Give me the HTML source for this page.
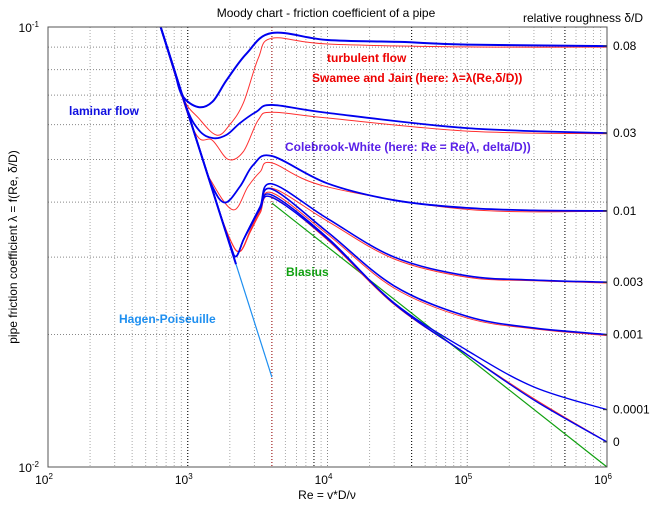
<!DOCTYPE html>
<html><head><meta charset="utf-8">
<style>
body{margin:0;background:#fff;}
svg{display:block;font-family:"Liberation Sans",sans-serif;}
.lbl{font-size:12px;font-weight:bold;}
.tk{font-size:12px;fill:#000;}
</style></head>
<body>
<svg id="chart" width="654" height="508" viewBox="0 0 654 508" xmlns="http://www.w3.org/2000/svg">
<rect x="0" y="0" width="654" height="508" fill="#fff"/>
<g id="grid"></g>
<g id="marks"></g>
<rect x="48" y="27" width="559" height="440" fill="none" stroke="#555" stroke-width="1"/>
<g id="ticks"></g>
<text x="326" y="17" text-anchor="middle" font-size="12">Moody chart - friction coefficient of a pipe</text>
<text x="583" y="22" text-anchor="middle" font-size="12">relative roughness δ/D</text>
<text transform="translate(17,247) rotate(-90)" text-anchor="middle" font-size="12">pipe friction coefficient λ = f(Re, δ/D)</text>
<text x="327" y="499" text-anchor="middle" font-size="12">Re = v*D/ν</text>
<text class="lbl" x="327" y="62" fill="#ee0000">turbulent flow</text>
<text class="lbl" x="312" y="82" fill="#ee0000">Swamee and Jain (here: λ=λ(Re,δ/D))</text>
<text class="lbl" x="69" y="115" fill="#1010e0">laminar flow</text>
<text class="lbl" x="285" y="151" fill="#5a20e8">Colebrook-White (here: Re = Re(λ, delta/D))</text>
<text class="lbl" x="286" y="276" fill="#10a010">Blasius</text>
<text class="lbl" x="119" y="323" fill="#1e8ff0">Hagen-Poiseuille</text>
</svg>
<script>
// ---- data ----
const roughnessLabels = ["0.08","0.03","0.01","0.003","0.001","0.0001","0"];
const roughnessEndLambda = [0.0905,0.0574,0.0382,0.0263,0.0200,0.0135,0.0114];
const laminarRe = [640, 2214];
const laminarLambda = [0.1, 0.0289];
const hagenRe = [2000, 4000];
const hagenLambda = [0.032, 0.016];
const blasiusRe = [4000, 1000000];
const blasiusLambda = [0.0398, 0.0100];

const cwRe008 = [640, 800, 910, 1184, 1500, 1900, 2640, 4000, 10000, 33000, 100000, 1000000];
const cwLam008 = [0.1, 0.080, 0.0700, 0.0658, 0.0676, 0.0758, 0.0871, 0.0969, 0.0934, 0.0925, 0.0912, 0.0905];
const cwRe003 = [640, 955, 1200, 1516, 1900, 2365, 3100, 4000, 10000, 100000, 1000000];
const cwLam003 = [0.1, 0.067, 0.0583, 0.0559, 0.0569, 0.0605, 0.0642, 0.0665, 0.0638, 0.0589, 0.0574];
const cwRe001 = [640, 1224, 1500, 1847, 2365, 2945, 4000, 10000, 30000, 100000, 300000, 1000000];
const cwLam001 = [0.1, 0.0523, 0.0434, 0.0399, 0.0434, 0.0486, 0.0509, 0.0441, 0.0404, 0.0388, 0.0383, 0.0382];
const cwRe0003 = [640, 1500, 2000, 2214, 2500, 2789, 3300, 4000, 10000, 30000, 100000, 300000, 1000000];
const cwLam0003 = [0.1, 0.0427, 0.0322, 0.0301, 0.0328, 0.0352, 0.0391, 0.0440, 0.0367, 0.0300, 0.0272, 0.0266, 0.0263];
const cwLam0001 = [0.1, 0.0427, 0.0322, 0.0301, 0.0328, 0.0352, 0.0389, 0.0428, 0.0342, 0.0258, 0.0220, 0.0207, 0.0200];
const cwLam00001 = [0.1, 0.0427, 0.0322, 0.0301, 0.0328, 0.0350, 0.0387, 0.0415, 0.0332, 0.0236, 0.0184, 0.0152, 0.0135];
const cwLam0 = [0.1, 0.0427, 0.0322, 0.0301, 0.0328, 0.0350, 0.0386, 0.0410, 0.0330, 0.0235, 0.0180, 0.0142, 0.0114];

const sjRe008 = [640, 910, 1200, 1611, 2000, 2500, 3200, 4000, 10000, 100000, 1000000];
const sjLam008 = [0.1, 0.0700, 0.0620, 0.0568, 0.0600, 0.0672, 0.0850, 0.0943, 0.0915, 0.0901, 0.0900];
const sjRe003 = [640, 1100, 1500, 1950, 2500, 3200, 4000, 10000, 100000, 1000000];
const sjLam003 = [0.1, 0.0585, 0.0553, 0.0500, 0.0521, 0.0615, 0.0640, 0.0621, 0.0580, 0.0572];
const sjRe001 = [640, 1250, 1500, 2119, 2700, 3300, 4000, 10000, 100000, 1000000];
const sjLam001 = [0.1, 0.0512, 0.0442, 0.0384, 0.0434, 0.0469, 0.0491, 0.0433, 0.0385, 0.0381];
const sjRe0003 = [640, 1500, 2000, 2365, 2800, 3300, 4000, 10000, 30000, 100000, 300000, 1000000];
const sjLam0003 = [0.1, 0.0427, 0.0330, 0.0309, 0.0345, 0.0385, 0.0430, 0.0362, 0.0297, 0.0270, 0.0265, 0.0262];
const sjLam0001 = [0.1, 0.0427, 0.0330, 0.0309, 0.0343, 0.0382, 0.0420, 0.0338, 0.0255, 0.0218, 0.0206, 0.0199];
const sjLam0 = [0.1, 0.0427, 0.0330, 0.0309, 0.0342, 0.0378, 0.0411, 0.0328, 0.0234, 0.0180, 0.0143, 0.0114];

const xTickExp = [2,3,4,5,6];
const dashedRe = [1000, 8000, 40000, 500000];

// ---- axes ----
const X0=48, X1=607, Y0=27, Y1=467;
const xs = re => X0 + (X1-X0)*(Math.log10(re)-2)/4;
const ys = l => Y0 + (Y1-Y0)*(Math.log10(0.1)-Math.log10(l));
const NS='http://www.w3.org/2000/svg';
function mk(tag, attrs, parent){const e=document.createElementNS(NS,tag);for(const k in attrs)e.setAttribute(k,attrs[k]);parent.appendChild(e);return e;}

const grid=document.getElementById('grid');
for(let d=2; d<6; d++){
  for(let m=1;m<10;m++){
    const re=m*Math.pow(10,d); if(m===1&&d===2) continue;
    const x=xs(re);
    const l=mk('line',{x1:x,y1:Y0,x2:x,y2:Y1,stroke:m===1?'#888':'#aaa','stroke-width':1,'stroke-dasharray':'1,2'},grid);
    
    
  }
}
for(let m=2;m<10;m++){
  const y=ys(m*0.01);
  const l=mk('line',{x1:X0,y1:y,x2:X1,y2:y,stroke:'#888','stroke-width':1,'stroke-dasharray':'1,2'},grid);
  
  
}
dashedRe.forEach((re,i)=>{
  const x=xs(re);
  const l=mk('line',{x1:x,y1:Y0,x2:x,y2:Y1,stroke:'#000','stroke-width':1,'stroke-dasharray':'1,2'},grid);
  
  
});
{
  const x=xs(4000);
  const l=mk('line',{x1:x,y1:Y0,x2:x,y2:Y1,stroke:'#900','stroke-width':1,'stroke-dasharray':'1,2'},grid);
  
  
}

function pathFrom(res, lams){
  const p=res.map((r,i)=>[xs(r),ys(lams[i])]);
  let d='M'+p[0][0].toFixed(2)+','+p[0][1].toFixed(2);
  for(let i=0;i<p.length-1;i++){
    const a=p[Math.max(i-1,0)], b=p[i], c=p[i+1], e=p[Math.min(i+2,p.length-1)];
    const t=0.17;
    const c1=[b[0]+(c[0]-a[0])*t, b[1]+(c[1]-a[1])*t];
    const c2=[c[0]-(e[0]-b[0])*t, c[1]-(e[1]-b[1])*t];
    d+=' C'+c1[0].toFixed(2)+','+c1[1].toFixed(2)+' '+c2[0].toFixed(2)+','+c2[1].toFixed(2)+' '+c[0].toFixed(2)+','+c[1].toFixed(2);
  }
  return d;
}
const marks=document.getElementById('marks');
function curve(res,lams,color,w,name){
  const e=mk('path',{d:pathFrom(res,lams),fill:'none',stroke:color,'stroke-width':w,'stroke-linejoin':'round'},marks);
  
  
}
function line(res,lams,color,w,name){
  const e=mk('line',{x1:xs(res[0]),y1:ys(lams[0]),x2:xs(res[1]),y2:ys(lams[1]),stroke:color,'stroke-width':w},marks);
  
  
}
line(hagenRe,hagenLambda,'#1e8ff0',1.2,'hagen-poiseuille-line');
line(blasiusRe,blasiusLambda,'#10a010',1.2,'blasius-line');
curve(sjRe008,sjLam008,'#ff3030',1,'swamee-jain-0.08');
curve(sjRe003,sjLam003,'#ff3030',1,'swamee-jain-0.03');
curve(sjRe001,sjLam001,'#ff3030',1,'swamee-jain-0.01');
curve(sjRe0003,sjLam0003,'#ff3030',1,'swamee-jain-0.003');
curve(sjRe0003,sjLam0001,'#ff3030',1,'swamee-jain-0.001');
curve(sjRe0003,sjLam0,'#ff3030',1,'swamee-jain-0');
line(laminarRe,laminarLambda,'#0000ee',2,'laminar-line');
curve(cwRe008,cwLam008,'#0000ee',2,'colebrook-0.08');
curve(cwRe003,cwLam003,'#0000ee',1.8,'colebrook-0.03');
curve(cwRe001,cwLam001,'#0000ee',1.8,'colebrook-0.01');
curve(cwRe0003,cwLam0003,'#0000ee',1.6,'colebrook-0.003');
curve(cwRe0003,cwLam0001,'#0000ee',1.6,'colebrook-0.001');
curve(cwRe0003,cwLam00001,'#0000ee',1.4,'colebrook-0.0001');
curve(cwRe0003,cwLam0,'#0000ee',1.4,'colebrook-0');

// ---- ticks ----
const ticks=document.getElementById('ticks');
xTickExp.forEach(ex=>{
  const x=xs(Math.pow(10,ex));
  const t=mk('text',{x:x-4,y:Y1+17,'text-anchor':'middle',class:'tk'},ticks);
  
  
  t.textContent='10';
  const s=mk('tspan',{dx:'0',dy:'-5','font-size':'8'},t); s.textContent=String(ex);
});
[[0.1,'-1'],[0.01,'-2']].forEach(([v,e])=>{
  const t=mk('text',{x:X0-9,y:ys(v)+5,'text-anchor':'end',class:'tk'},ticks);
  
  
  t.textContent='10';
  const s=mk('tspan',{dy:'-5','font-size':'8'},t); s.textContent=e;
});
roughnessLabels.forEach((lab,i)=>{
  const y=ys(roughnessEndLambda[i]);
  const tl=mk('line',{x1:X1-4,y1:y,x2:X1,y2:y,stroke:'#333'},ticks);
  
  
  const t=mk('text',{x:X1+6,y:y+4,class:'tk'},ticks);
  
  
  t.textContent=lab;
});
</script>
</body></html>
